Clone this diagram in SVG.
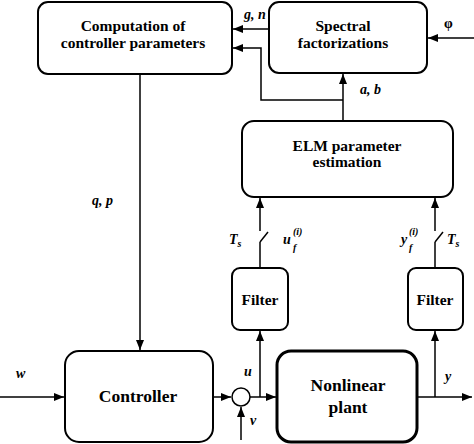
<svg xmlns="http://www.w3.org/2000/svg" width="474" height="444" viewBox="0 0 474 444">
<defs>
<marker id="ah" markerWidth="10" markerHeight="8" refX="10" refY="4" orient="auto" markerUnits="userSpaceOnUse">
<path d="M0,0 L10,4 L0,8 Z" fill="#000"/>
</marker>
<style>
.box{fill:#fff;stroke:#000;stroke-width:2}
.thick{stroke-width:3}
.t{font-weight:bold;font-size:15.5px;text-anchor:middle;fill:#000}
.tl{font-weight:bold;font-size:17.5px;text-anchor:middle;fill:#000}
.lab{font-weight:bold;font-style:italic;font-size:14px;fill:#000}
.sm{font-size:10px}
.ln{fill:none;stroke:#000;stroke-width:1.5}
.ar{fill:none;stroke:#000;stroke-width:1.5;marker-end:url(#ah)}
</style>
</defs>
<rect width="474" height="444" fill="#fff"/>
<g id="connectors">
<line class="ar" x1="140" y1="74" x2="140" y2="350"/>
<line class="ar" x1="269" y1="29" x2="233" y2="29"/>
<polyline class="ar" points="343,100 261,100 261,48 233,48"/>
<line class="ar" x1="343" y1="121" x2="343" y2="74"/>
<line class="ar" x1="474" y1="38" x2="428" y2="38"/>
<line class="ar" x1="0" y1="397" x2="64" y2="397"/>
<line class="ar" x1="213" y1="397" x2="231" y2="397"/>
<line class="ar" x1="241" y1="440" x2="241" y2="407"/>
<polyline class="ar" points="250,397 276,397"/>
<line class="ar" x1="260" y1="397" x2="260" y2="331"/>
<line class="ar" x1="417" y1="397" x2="472" y2="397"/>
<line class="ar" x1="435" y1="397" x2="435" y2="331"/>
<line class="ln" x1="260" y1="268" x2="260" y2="242"/>
<line class="ln" x1="260" y1="242" x2="268" y2="232"/>
<line class="ar" x1="260" y1="231" x2="260" y2="198"/>
<line class="ln" x1="435" y1="268" x2="435" y2="242"/>
<line class="ln" x1="435" y1="242" x2="443" y2="232"/>
<line class="ar" x1="435" y1="231" x2="435" y2="198"/>
</g>
<g font-family="Liberation Serif, DejaVu Serif, Times New Roman, serif">
<g id="computation">
<rect class="box" x="38" y="2" width="194" height="72" rx="10"/>
<text class="t" x="133" y="31">Computation of</text>
<text class="t" x="133" y="48">controller parameters</text>
</g>
<g id="spectral">
<rect class="box" x="269" y="2" width="158" height="71" rx="10"/>
<text class="t" x="343" y="31">Spectral</text>
<text class="t" x="343" y="48">factorizations</text>
</g>
<g id="elm">
<rect class="box" x="242" y="121" width="211" height="76" rx="12"/>
<text class="t" x="347" y="151">ELM parameter</text>
<text class="t" x="347" y="167">estimation</text>
</g>
<g id="filter1">
<rect class="box" x="232" y="268" width="56" height="62" rx="8"/>
<text class="t" x="260" y="305">Filter</text>
</g>
<g id="filter2">
<rect class="box" x="408" y="268" width="55" height="62" rx="8"/>
<text class="t" x="435" y="305">Filter</text>
</g>
<g id="controller">
<rect class="box" x="65" y="351" width="148" height="91" rx="14"/>
<text class="tl" x="138" y="402">Controller</text>
</g>
<g id="sum">
<circle cx="241" cy="397" r="9" fill="#fff" stroke="#000" stroke-width="1.5"/>
</g>
<g id="plant">
<rect class="box thick" x="277" y="351" width="140" height="91" rx="14"/>
<text class="tl" x="348" y="391">Nonlinear</text>
<text class="tl" x="348" y="413">plant</text>
</g>
<g id="labels">
<text class="lab" x="244" y="19">g, n</text>
<text class="lab" x="444" y="28" style="font-style:normal">φ</text>
<text class="lab" x="360" y="94">a, b</text>
<text class="lab" x="92" y="205">q, p</text>
<text class="lab" x="229" y="244">T<tspan class="sm" dy="3">s</tspan></text>
<text class="lab" x="283" y="244">u</text>
<text class="lab sm" x="293" y="235">(i)</text>
<text class="lab sm" x="293" y="251">f</text>
<text class="lab" x="401" y="244">y</text>
<text class="lab sm" x="409" y="235">(i)</text>
<text class="lab sm" x="409" y="251">f</text>
<text class="lab" x="447" y="244">T<tspan class="sm" dy="3">s</tspan></text>
<text class="lab" x="16" y="378">w</text>
<text class="lab" x="244" y="376">u</text>
<text class="lab" x="250" y="425">v</text>
<text class="lab" x="445" y="381">y</text>
</g>
</g>
</svg>
